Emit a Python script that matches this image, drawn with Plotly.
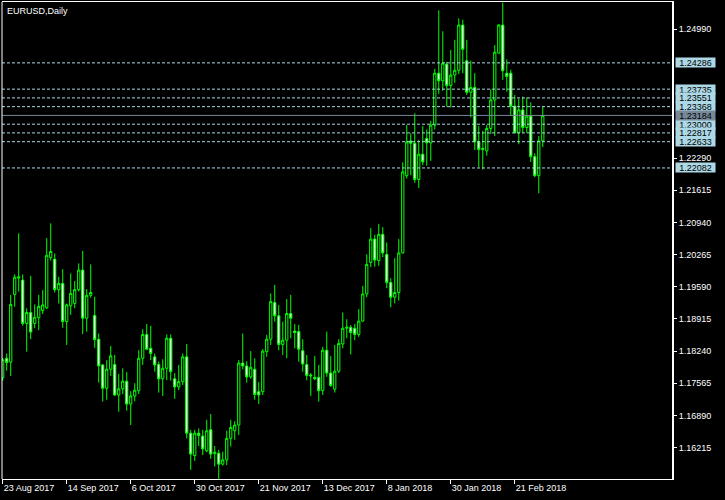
import pandas as pd
import plotly.graph_objects as go

# ---------------- data (EURUSD daily) ----------------
opens = [1.1768, 1.1809, 1.1801, 1.1943, 1.1977, 1.1973, 1.1882, 1.1905, 1.1882, 1.1894,
         1.1909, 1.1915, 1.2020, 1.2017, 1.1953, 1.1966, 1.1886, 1.1919, 1.1924, 1.1953,
         1.1994, 1.1893, 1.1941, 1.1899, 1.1849, 1.1795, 1.1746, 1.1786, 1.1796, 1.1732,
         1.1745, 1.1761, 1.1713, 1.1730, 1.1741, 1.1809, 1.1859, 1.1830, 1.1812, 1.1796,
         1.1766, 1.1788, 1.1851, 1.1766, 1.1749, 1.1760, 1.1812, 1.1652, 1.1605, 1.1652,
         1.1646, 1.1615, 1.1659, 1.1609, 1.1610, 1.1587, 1.1596, 1.1641, 1.1657, 1.1669,
         1.1799, 1.1793, 1.1770, 1.1786, 1.1739, 1.1739, 1.1823, 1.1849, 1.1926, 1.1898,
         1.1838, 1.1847, 1.1903, 1.1866, 1.1865, 1.1825, 1.1796, 1.1774, 1.1769, 1.1769,
         1.1741, 1.1826, 1.1778, 1.1744, 1.1782, 1.1839, 1.1872, 1.1874, 1.1872, 1.1859,
         1.1887, 1.1944, 1.2010, 1.2059, 1.2014, 1.2069, 1.2027, 1.1968, 1.1937, 1.1947,
         1.2030, 1.2192, 1.2265, 1.2260, 1.2184, 1.2237, 1.2270, 1.2261, 1.2298, 1.2407,
         1.2391, 1.2426, 1.2381, 1.2403, 1.2413, 1.2508, 1.2433, 1.2367, 1.2377, 1.2263,
         1.2249, 1.2244, 1.2291, 1.2351, 1.2449, 1.2508, 1.2407, 1.2407, 1.2338, 1.2282,
         1.2330, 1.2293, 1.2317, 1.2232, 1.2192, 1.2265]
highs = [1.1810, 1.1819, 1.1942, 1.1985, 1.2071, 1.1985, 1.1914, 1.1982, 1.1922, 1.1942,
         1.1952, 1.2061, 1.2092, 1.2029, 1.1980, 1.1996, 1.1924, 1.1987, 1.1971, 1.2008,
         1.2034, 1.1954, 1.2006, 1.1938, 1.1861, 1.1797, 1.1805, 1.1835, 1.1816, 1.1776,
         1.1788, 1.1780, 1.1740, 1.1757, 1.1826, 1.1870, 1.1881, 1.1877, 1.1819, 1.1802,
         1.1807, 1.1859, 1.1859, 1.1778, 1.1795, 1.1819, 1.1839, 1.1659, 1.1659, 1.1662,
         1.1659, 1.1680, 1.1692, 1.1625, 1.1617, 1.1613, 1.1657, 1.1680, 1.1677, 1.1805,
         1.1861, 1.1803, 1.1824, 1.1809, 1.1759, 1.1828, 1.1858, 1.1945, 1.1963, 1.1921,
         1.1886, 1.1933, 1.1942, 1.1881, 1.1879, 1.1849, 1.1816, 1.1778, 1.1814, 1.1795,
         1.1833, 1.1865, 1.1814, 1.1837, 1.1849, 1.1905, 1.1891, 1.1879, 1.1881, 1.1912,
         1.1961, 1.2027, 1.2082, 1.2068, 1.2091, 1.2084, 1.2052, 1.1977, 1.2019, 1.2059,
         1.2220, 1.2298, 1.2281, 1.2323, 1.2267, 1.2296, 1.2289, 1.2307, 1.2416, 1.2539,
         1.2495, 1.2431, 1.2456, 1.2477, 1.2522, 1.2519, 1.2477, 1.2433, 1.2407, 1.2296,
         1.2286, 1.2298, 1.2373, 1.2466, 1.2510, 1.2555, 1.2436, 1.2414, 1.2361, 1.2353,
         1.2358, 1.2356, 1.2346, 1.2239, 1.2275, 1.2337]
lows = [1.1762, 1.1783, 1.1772, 1.1917, 1.1949, 1.1877, 1.1823, 1.1849, 1.1872, 1.1868,
        1.1902, 1.1912, 1.2014, 1.1947, 1.1924, 1.1873, 1.1837, 1.1900, 1.1914, 1.1949,
        1.1860, 1.1865, 1.1936, 1.1831, 1.1758, 1.1718, 1.1722, 1.1772, 1.1730, 1.1697,
        1.1734, 1.1699, 1.1669, 1.1719, 1.1734, 1.1795, 1.1826, 1.1805, 1.1781, 1.1737,
        1.1730, 1.1763, 1.1762, 1.1724, 1.1742, 1.1753, 1.1641, 1.1575, 1.1594, 1.1625,
        1.1606, 1.1612, 1.1598, 1.1582, 1.1556, 1.1584, 1.1585, 1.1624, 1.1638, 1.1648,
        1.1786, 1.1758, 1.1766, 1.1722, 1.1713, 1.1732, 1.1812, 1.1837, 1.1886, 1.1826,
        1.1816, 1.1809, 1.1851, 1.1830, 1.1802, 1.1781, 1.1763, 1.1730, 1.1763, 1.1718,
        1.1732, 1.1770, 1.1749, 1.1737, 1.1778, 1.1830, 1.1851, 1.1817, 1.1847, 1.1854,
        1.1886, 1.1937, 1.2000, 1.2001, 1.2003, 1.2021, 1.1956, 1.1916, 1.1924, 1.1930,
        1.2029, 1.2186, 1.2193, 1.2177, 1.2166, 1.2214, 1.2213, 1.2223, 1.2289, 1.2363,
        1.2370, 1.2337, 1.2335, 1.2387, 1.2405, 1.2407, 1.2361, 1.2314, 1.2246, 1.2210,
        1.2205, 1.2234, 1.2279, 1.2275, 1.2449, 1.2393, 1.2368, 1.2319, 1.2281, 1.2258,
        1.2281, 1.2282, 1.2221, 1.2189, 1.2155, 1.2252]
closes = [1.1806, 1.1800, 1.1922, 1.1979, 1.1980, 1.1882, 1.1905, 1.1864, 1.1895, 1.1918,
          1.1921, 1.2025, 1.2033, 1.1953, 1.1966, 1.1886, 1.1921, 1.1945, 1.1953, 1.1994,
          1.1893, 1.1941, 1.1947, 1.1848, 1.1793, 1.1746, 1.1786, 1.1814, 1.1732, 1.1745,
          1.1761, 1.1713, 1.1730, 1.1742, 1.1809, 1.1859, 1.1828, 1.1819, 1.1795, 1.1766,
          1.1788, 1.1851, 1.1781, 1.1749, 1.1760, 1.1812, 1.1652, 1.1608, 1.1652, 1.1647,
          1.1619, 1.1657, 1.1608, 1.1612, 1.1587, 1.1596, 1.1641, 1.1664, 1.1669, 1.1799,
          1.1793, 1.1770, 1.1790, 1.1733, 1.1732, 1.1824, 1.1849, 1.1928, 1.1898, 1.1838,
          1.1847, 1.1903, 1.1893, 1.1863, 1.1828, 1.1797, 1.1773, 1.1772, 1.1766, 1.1741,
          1.1826, 1.1778, 1.1752, 1.1782, 1.1840, 1.1872, 1.1874, 1.1863, 1.1859, 1.1887,
          1.1944, 1.2006, 1.2059, 1.2015, 1.2069, 1.2030, 1.1968, 1.1937, 1.1947, 1.2030,
          1.2200, 1.2263, 1.2260, 1.2184, 1.2237, 1.2221, 1.2261, 1.2298, 1.2407, 1.2391,
          1.2428, 1.2381, 1.2403, 1.2413, 1.2508, 1.2457, 1.2367, 1.2377, 1.2263, 1.2247,
          1.2247, 1.2291, 1.2351, 1.2451, 1.2508, 1.2412, 1.2400, 1.2338, 1.2282, 1.2330,
          1.2293, 1.2317, 1.2232, 1.2192, 1.2265, 1.2318]

start_date = "2017-08-23"
end_date = "2018-03-02"
holidays = ["2017-12-25", "2018-01-01"]

tick_dates = ["2017-08-23", "2017-09-14", "2017-10-06", "2017-10-30", "2017-11-21",
              "2017-12-13", "2018-01-08", "2018-01-30", "2018-02-21"]

price_ticks = [1.16215, 1.16890, 1.17565, 1.18240, 1.18915, 1.19590, 1.20265,
               1.20940, 1.21615, 1.22290, 1.24990]

level_lines = [1.24286, 1.23735, 1.23551, 1.23368, 1.23000, 1.22817, 1.22633, 1.22082]
bid_price = 1.23184

symbol_title = "EURUSD,Daily"

# ---------------- build ----------------
days = [d for d in pd.bdate_range(start_date, end_date)
        if d.strftime("%Y-%m-%d") not in holidays]
n = min(len(days), len(opens))
days = days[:n]
xs = list(range(n))
day_str = [d.strftime("%Y-%m-%d") for d in days]
tickvals = [day_str.index(t) for t in tick_dates]
ticktext = [f"{pd.Timestamp(t).day} {pd.Timestamp(t).strftime('%b %Y')}" for t in tick_dates]

FONT = "Liberation Sans"
GREEN = "#00FF00"
LB = "#ADD8E6"
BIDC = "#778899"

fig = go.Figure()
fig.add_trace(go.Candlestick(
    x=xs, open=opens[:n], high=highs[:n], low=lows[:n], close=closes[:n],
    increasing=dict(line=dict(color=GREEN, width=1), fillcolor="black"),
    decreasing=dict(line=dict(color=GREEN, width=1), fillcolor="white"),
    whiskerwidth=0, showlegend=False, hoverinfo="skip",
))

shapes = []
for lv in level_lines:
    shapes.append(dict(type="line", xref="paper", x0=0, x1=1, yref="y", y0=lv, y1=lv,
                       line=dict(color=LB, width=1, dash="3px,2px"), layer="above"))
shapes.append(dict(type="line", xref="paper", x0=0, x1=1, yref="y", y0=bid_price, y1=bid_price,
                   line=dict(color=BIDC, width=1), layer="above"))
# left border of chart frame
shapes.append(dict(type="line", xref="paper", x0=0, x1=0, yref="paper", y0=0, y1=1,
                   line=dict(color="white", width=1)))

annotations = []
for lv in level_lines:
    annotations.append(dict(xref="paper", x=1, xanchor="left", xshift=3,
                            yref="y", y=lv, yanchor="middle",
                            text=f"{lv:.5f}", showarrow=False,
                            font=dict(family=FONT, size=9, color="black"),
                            bgcolor=LB, borderpad=0, width=39, height=9))
annotations.append(dict(xref="paper", x=1, xanchor="left", xshift=3,
                        yref="y", y=bid_price, yanchor="middle",
                        text=f"{bid_price:.5f}", showarrow=False,
                        font=dict(family=FONT, size=9, color="black"),
                        bgcolor=BIDC, borderpad=0, width=39, height=9))
annotations.append(dict(xref="paper", x=0, xanchor="left", xshift=3,
                        yref="paper", y=1, yanchor="top", yshift=-2,
                        text=symbol_title, showarrow=False,
                        font=dict(family=FONT, size=9, color="white")))

fig.update_layout(
    width=725, height=500,
    margin=dict(l=2, r=53, t=2, b=21, pad=0),
    paper_bgcolor="black", plot_bgcolor="black",
    boxgap=0.2,
    shapes=shapes, annotations=annotations,
    xaxis=dict(range=[-0.175, 167.3], showgrid=False, zeroline=False,
               showline=True, linecolor="white", linewidth=1, mirror=True,
               ticks="outside", ticklen=4, tickcolor="white", tickwidth=1,
               tickvals=tickvals, ticktext=ticktext,
               ticklabelposition="outside right",
               tickfont=dict(family=FONT, size=9, color="white"),
               rangeslider=dict(visible=False), fixedrange=True),
    yaxis=dict(side="right", range=[1.15558, 1.25563], showgrid=False, zeroline=False,
               showline=True, linecolor="white", linewidth=2,
               ticks="outside", ticklen=3, tickcolor="white", tickwidth=1,
               tickvals=price_ticks, ticktext=[f"{v:.5f}" for v in price_ticks],
               tickfont=dict(family=FONT, size=9, color="white"), fixedrange=True),
    hovermode=False,
)

fig.write_html("out.html",
               config={"displayModeBar": False, "staticPlot": True},
               post_script="document.body.style.margin='0';document.body.style.background='black';")
